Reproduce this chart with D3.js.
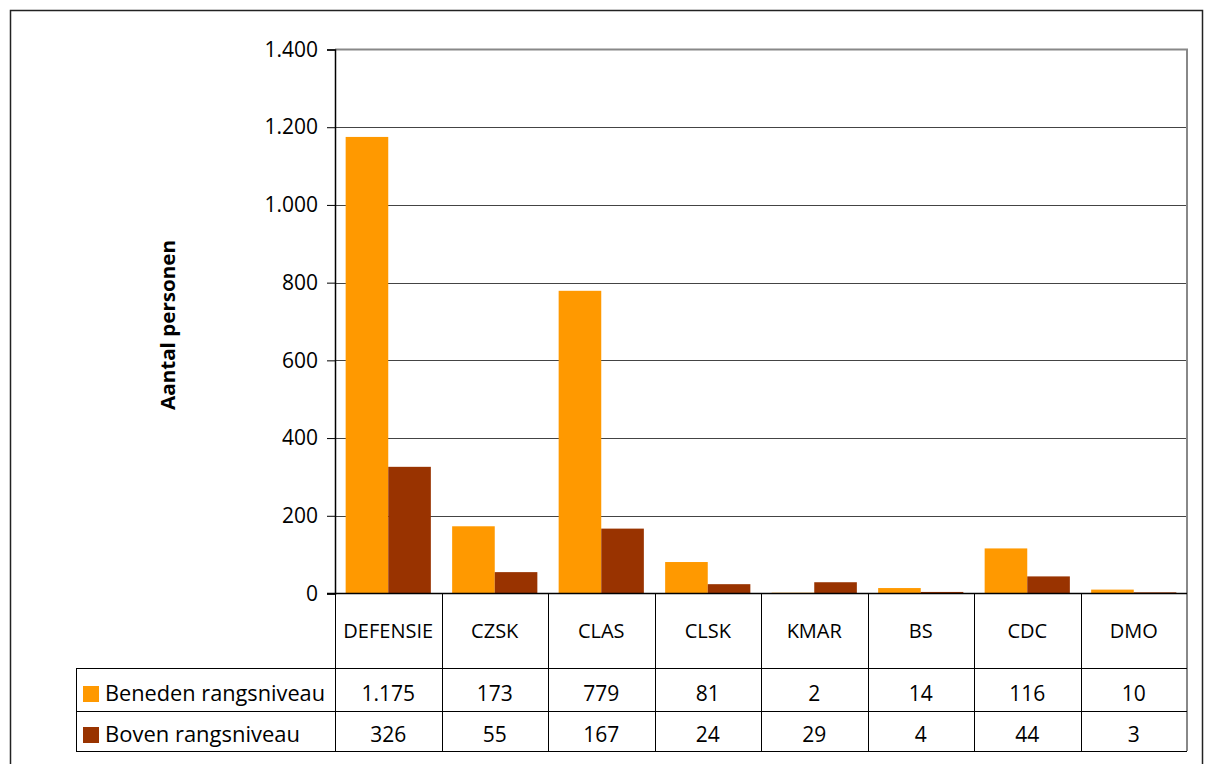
<!DOCTYPE html>
<html>
  <head>
    <meta charset="utf-8">
    <title>Aantal personen per rangsniveau</title>
    <script src="https://d3js.org/d3.v7.min.js"></script>
    <style>
      body { margin: 0; background: #fff; }
      text { font-family: "Open Sans", "Noto Sans", sans-serif; fill: #000; }
    </style>
  </head>
  <body>
    <script>
      var categories = ["DEFENSIE", "CZSK", "CLAS", "CLSK", "KMAR", "BS", "CDC", "DMO"];
      var seriesNames = ["Beneden rangsniveau", "Boven rangsniveau"];
      var beneden = [1175, 173, 779, 81, 2, 14, 116, 10];
      var boven = [326, 55, 167, 24, 29, 4, 44, 3];
      var yTicks = [0, 200, 400, 600, 800, 1000, 1200, 1400];
      var colors = ["#ff9900", "#993300"];

      var width = 1207, height = 764;
      var plot = {left: 335, right: 1187, top: 49.5, bottom: 593.5};
      var table = {left: 76, catRow: 668, row1: 711, row2: 751};

      var nl = d3.formatLocale({decimal: ",", thousands: ".", grouping: [3], currency: ["€", ""]});
      var fmt = nl.format(",d");

      var svg = d3.select("body").append("svg")
        .attr("width", width)
        .attr("height", height);

      // outer frame
      svg.append("rect")
        .attr("x", 10.5).attr("y", 10.5)
        .attr("width", 1192).attr("height", 770)
        .attr("fill", "none")
        .attr("stroke", "#222")
        .attr("stroke-width", 1.5);

      var x = d3.scaleBand()
        .domain(categories)
        .range([plot.left, plot.right]);
      var x1 = d3.scaleBand()
        .domain(seriesNames)
        .range([0, x.bandwidth()])
        .paddingOuter(0.25);
      var y = d3.scaleLinear()
        .domain([0, 1400])
        .range([plot.bottom, plot.top]);

      // gridlines
      svg.append("g")
        .selectAll("line")
        .data(yTicks.slice(1, -1))
        .enter().append("line")
          .attr("x1", plot.left).attr("x2", plot.right)
          .attr("y1", function(d) { return Math.round(y(d)) + 0.5; })
          .attr("y2", function(d) { return Math.round(y(d)) + 0.5; })
          .attr("stroke", "#444")
          .attr("stroke-width", 1);

      // plot border top / right
      svg.append("path")
        .attr("d", "M" + plot.left + "," + plot.top + "H" + plot.right + "V" + table.row2)
        .attr("fill", "none")
        .attr("stroke", "#888")
        .attr("stroke-width", 2);

      // bars
      var series = [beneden, boven];
      series.forEach(function(vals, s) {
        svg.append("g")
          .selectAll("rect")
          .data(vals)
          .enter().append("rect")
            .attr("x", function(d, i) { return x(categories[i]) + x1(seriesNames[s]); })
            .attr("y", function(d) { return y(d); })
            .attr("width", x1.bandwidth())
            .attr("height", function(d) { return y(0) - y(d); })
            .attr("fill", colors[s]);
      });

      // y axis
      var yAxis = d3.axisLeft(y)
        .tickValues(yTicks)
        .tickSize(8)
        .tickPadding(9)
        .tickFormat(fmt);
      var ya = svg.append("g")
        .attr("transform", "translate(" + plot.left + ",0)")
        .call(yAxis);
      ya.select(".domain").attr("stroke", "#000").attr("stroke-width", 1.5);
      ya.selectAll(".tick line").attr("stroke", "#000");
      ya.selectAll(".tick text")
        .style("font-size", "21px")
        .attr("fill", "#000");

      // y axis title
      svg.append("text")
        .attr("transform", "translate(175," + 325 + ") rotate(-90)")
        .attr("text-anchor", "middle")
        .attr("textLength", 170)
        .attr("lengthAdjust", "spacingAndGlyphs")
        .style("font-size", "19px")
        .style("font-weight", "bold")
        .text("Aantal personen");

      // data table lines
      var tg = svg.append("g").attr("stroke", "#000").attr("stroke-width", 1);
      tg.append("line")
        .attr("x1", plot.left - 8).attr("x2", plot.right)
        .attr("y1", plot.bottom).attr("y2", plot.bottom)
        .attr("stroke-width", 1.5);
      [table.catRow, table.row1, table.row2].forEach(function(yy) {
        tg.append("line")
          .attr("x1", table.left).attr("x2", plot.right)
          .attr("y1", yy + 0.5).attr("y2", yy + 0.5);
      });
      tg.append("line")
        .attr("x1", table.left + 0.5).attr("x2", table.left + 0.5)
        .attr("y1", table.catRow).attr("y2", table.row2);
      tg.selectAll(".sep")
        .data(categories)
        .enter().append("line")
          .attr("x1", function(d) { return Math.round(x(d)) + 0.5; })
          .attr("x2", function(d) { return Math.round(x(d)) + 0.5; })
          .attr("y1", plot.bottom).attr("y2", table.row2);

      // category labels
      svg.append("g")
        .selectAll("text")
        .data(categories)
        .enter().append("text")
          .attr("x", function(d) { return x(d) + x.bandwidth() / 2; })
          .attr("y", 638)
          .attr("text-anchor", "middle")
          .style("font-size", "20px")
          .text(function(d) { return d; });

      // values rows
      var rowY = [701, 742];
      series.forEach(function(vals, s) {
        svg.append("g")
          .selectAll("text")
          .data(vals)
          .enter().append("text")
            .attr("x", function(d, i) { return x(categories[i]) + x.bandwidth() / 2; })
            .attr("y", rowY[s])
            .attr("text-anchor", "middle")
            .style("font-size", "21px")
            .text(function(d) { return fmt(d); });
      });

      // legend keys in table
      seriesNames.forEach(function(name, s) {
        svg.append("rect")
          .attr("x", 83).attr("y", rowY[s] - 15)
          .attr("width", 16).attr("height", 16)
          .attr("fill", colors[s]);
        svg.append("text")
          .attr("x", 105).attr("y", rowY[s])
          .attr("textLength", s === 0 ? 220 : 195)
          .attr("lengthAdjust", "spacingAndGlyphs")
          .style("font-size", "21px")
          .text(name);
      });
    </script>
  </body>
</html>
